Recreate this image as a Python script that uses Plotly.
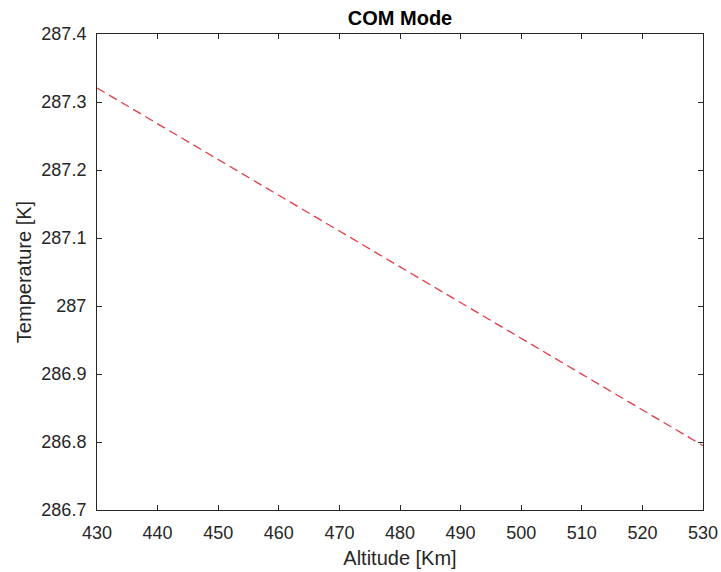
import plotly.graph_objects as go

altitude = [430, 530]
temperature = [287.3206, 286.7946]
x_ticks = [430, 440, 450, 460, 470, 480, 490, 500, 510, 520, 530]
y_ticks = [286.7, 286.8, 286.9, 287.0, 287.1, 287.2, 287.3, 287.4]
y_tick_text = ["286.7", "286.8", "286.9", "287", "287.1", "287.2", "287.3", "287.4"]

ink = "#262626"
font_family = "Liberation Sans, Arial, Helvetica, sans-serif"

fig = go.Figure()
fig.add_trace(go.Scatter(
    x=altitude, y=temperature, mode="lines",
    line=dict(color="rgb(228,60,70)", width=1.3, dash="9px,5px"),
    showlegend=False,
))

axis_common = dict(
    showgrid=False, zeroline=False, showline=True, linecolor=ink, linewidth=1,
    mirror="ticks", ticks="inside", ticklen=5, tickcolor=ink, tickwidth=1,
    tickfont=dict(family=font_family, size=18, color=ink), automargin=False,
)

fig.update_layout(
    width=721, height=572,
    margin=dict(l=97, r=18, t=34, b=62),
    paper_bgcolor="white", plot_bgcolor="white",
    title=dict(text="<b>COM Mode</b>", x=0.5, xref="paper", xanchor="center",
               y=1 - 18 / 572, yref="container", yanchor="middle",
               font=dict(family=font_family, size=20, color="black")),
    xaxis=dict(range=[430, 530], tickvals=x_ticks, ticklabelstandoff=6,
               title=dict(text="Altitude [Km]", standoff=9,
                          font=dict(family=font_family, size=20, color=ink)),
               **axis_common),
    yaxis=dict(range=[286.7, 287.4], tickvals=y_ticks, ticktext=y_tick_text,
               ticklabelstandoff=6,
               title=dict(text="Temperature [K]", standoff=4,
                          font=dict(family=font_family, size=20, color=ink)),
               **axis_common),
)

fig.write_html("out.html")
